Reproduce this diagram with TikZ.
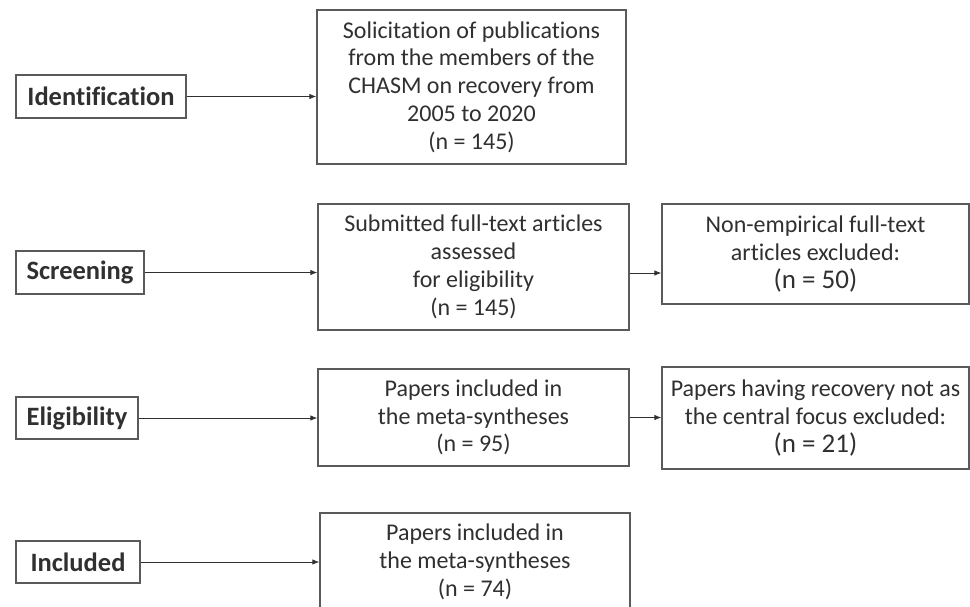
\documentclass[tikz,border=0pt]{standalone}
\usepackage{fontspec}
\setmainfont{Carlito}[RawFeature={-liga;-clig;-calt;-dlig}]
\usetikzlibrary{arrows.meta}
\definecolor{txt}{HTML}{303030}
\definecolor{edge}{HTML}{5A5A5A}
\tikzset{
  stagebox/.style={draw=edge, line width=1.3pt, text=txt, font=\fontsize{26.5}{30}\selectfont\bfseries, inner sep=0pt, align=center},
  infobox/.style={draw=edge, line width=1.3pt, text=txt, font=\fontsize{24}{27.8}\selectfont, inner sep=0pt, align=center},
  conn/.style={draw=txt, line width=0.9pt, -{Latex[length=7pt,width=5.5pt]}},
}
\newcommand{\bign}[1]{{\fontsize{27}{30}\selectfont #1}}
\begin{document}
\begin{tikzpicture}[x=1pt, y=-1pt]
\useasboundingbox (0,0) rectangle (970,606);
\clip (0,0) rectangle (970,606);
\fill[white] (0,0) rectangle (970,606);
% stage labels
\node[stagebox, minimum width=170pt, minimum height=43pt] (ident) at (101,96.5) {Identification};
\node[stagebox, minimum width=128pt, minimum height=43pt] (screen) at (80,272.5) {Screening};
\node[stagebox, minimum width=122pt, minimum height=42pt] (elig) at (77,418) {Eligibility};
\node[stagebox, minimum width=124pt, minimum height=42pt] (incl) at (78,562) {Included};
% main boxes
\node[infobox, minimum width=309pt, minimum height=154pt] (b1) at (471.5,87) {Solicitation of publications\\from the members of the\\CHASM on recovery from\\2005 to 2020\\(n = 145)};
\node[infobox, minimum width=311pt, minimum height=126pt] (b2) at (473.5,267) {Submitted full-text articles\\assessed\\for eligibility\\(n = 145)};
\node[infobox, minimum width=307pt, minimum height=100pt] (b3) at (815.5,254) {Non-empirical full-text\\articles excluded:\\\bign{(n = 50)}};
\node[infobox, minimum width=311pt, minimum height=97pt] (b4) at (473.5,417.5) {Papers included in\\the meta-syntheses\\(n = 95)};
\node[infobox, minimum width=307pt, minimum height=102pt] (b5) at (815.5,418) {Papers having recovery not as\\the central focus excluded:\\\bign{(n = 21)}};
\node[infobox, minimum width=310pt, minimum height=98pt] (b6) at (475,562) {Papers included in\\the meta-syntheses\\(n = 74)};
% connectors
\draw[conn] (ident.east) -- (ident.east -| b1.west);
\draw[conn] (screen.east) -- (screen.east -| b2.west);
\draw[conn] (elig.east) -- (elig.east -| b4.west);
\draw[conn] (incl.east) -- (incl.east -| b6.west);
\draw[conn] (b2.east |- 0,273) -- (b3.west |- 0,273);
\draw[conn] (b4.east) -- (b4.east -| b5.west);
\end{tikzpicture}
\end{document}
